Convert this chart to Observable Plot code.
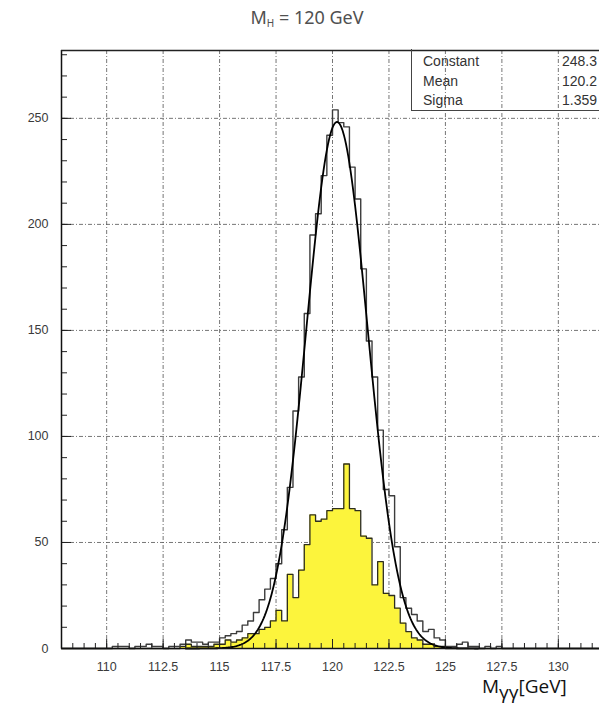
<!DOCTYPE html>
<html>
<head>
<meta charset="utf-8">
<script src="https://cdn.jsdelivr.net/npm/d3@7"></script>
<script src="https://cdn.jsdelivr.net/npm/@observablehq/plot@0.6"></script>
<style>
  html, body { margin: 0; padding: 0; background: #fff; overflow: hidden; }
  #wrap { position: relative; width: 599px; height: 708px; overflow: hidden; }
  #chart { position: absolute; left: 0; top: 0; }
  #title {
    position: absolute; left: 0; top: 5px; width: 614px; text-align: center;
    font-family: "Noto Sans", "Liberation Sans", sans-serif; font-size: 18px; color: #505050;
  }
  #title sub { font-size: 10px; vertical-align: -3px; }
  #stats {
    position: absolute; left: 411px; top: 49px; width: 192px; height: 61px;
    border-left: 1px solid #444; border-bottom: 1.5px solid #444;
    font-family: "Liberation Sans", Arial, sans-serif; font-size: 14px; color: #333;
  }
  #stats .k { position: absolute; left: 11px; }
  #stats .v { position: absolute; right: 7px; text-align: right; }
  #xlabel {
    position: absolute; left: 482px; top: 676px; line-height: 20px;
    font-family: "Open Sans", "Noto Sans", sans-serif; font-size: 19px; color: #111; white-space: nowrap;
  }
  #xlabel sub { font-size: 19px; vertical-align: -6px; line-height: 0; }
</style>
</head>
<body>
<div id="wrap">
  <div id="chart"></div>
  <div id="title">M<sub>H</sub> = 120 GeV</div>
  <div id="stats"></div>
  <div id="xlabel">M<sub>γγ</sub>[GeV]</div>
</div>
<script>
// Diphoton invariant mass, 0.25 GeV bins starting at 108 GeV
const binStart = 108;
const binWidth = 0.25;

// all events (open histogram)
const allEvents = [
  0, 0, 0, 0, 0, 0, 0, 0,          // 108.00 - 109.75
  0, 1, 1, 1, 0, 1, 1, 2,          // 110.00 - 111.75
  1, 1, 0, 1, 1, 2, 4, 3,          // 112.00 - 113.75
  3, 2, 3, 3, 5, 6, 7, 8,          // 114.00 - 115.75
  11, 13, 17, 23, 28, 33, 40, 56,  // 116.00 - 117.75
  76, 112, 128, 158, 195, 205, 223, 242, // 118.00 - 119.75
  254, 248, 246, 227, 212, 179, 145, 128, // 120.00 - 121.75
  103, 75, 72, 48, 24, 19, 16, 13, // 122.00 - 123.75
  8, 9, 5, 4, 1, 1, 2, 3,          // 124.00 - 125.75
  1, 1, 0, 1, 0, 1, 0, 0,          // 126.00 - 127.75
  0, 0, 0, 0, 0, 0, 0, 0,          // 128.00 - 129.75
  0, 0, 0, 0, 0, 0, 0, 0           // 130.00 - 131.75
];

// selected subset (filled histogram)
const selectedEvents = [
  0, 0, 0, 0, 0, 0, 0, 0,
  0, 0, 0, 0, 0, 0, 0, 0,
  0, 0, 0, 0, 0, 1, 2, 1,
  1, 1, 1, 2, 2, 4, 3, 4,
  5, 7, 7, 9, 10, 13, 18, 13,
  35, 24, 37, 49, 63, 60, 61, 65,
  66, 66, 87, 66, 65, 53, 52, 30,
  41, 26, 25, 19, 12, 8, 5, 4,
  2, 2, 1, 1, 0, 0, 0, 0,
  0, 0, 0, 0, 0, 0, 0, 0,
  0, 0, 0, 0, 0, 0, 0, 0,
  0, 0, 0, 0, 0, 0, 0, 0
];

// Gaussian fit results
const fitNames = ["Constant", "Mean", "Sigma"];
const fitValues = [248.3, 120.2, 1.359];
const fitLabels = ["248.3", "120.2", "1.359"];
const [fitConstant, fitMean, fitSigma] = fitValues;

// axis ticks
const xMajorTicks = [110, 112.5, 115, 117.5, 120, 122.5, 125, 127.5, 130];
const yMajorTicks = [0, 50, 100, 150, 200, 250];
const xMinorTicks = d3.range(108.5, 132, 0.5);
const yMinorTicks = d3.range(10, 282, 10);

const xDomain = [108, 132];
const yDomain = [0, 282];

// histogram outline points (step-after, closing at the last bin edge)
function steps(counts) {
  const pts = counts.map((n, i) => ({m: binStart + i * binWidth, n}));
  pts.push({m: binStart + counts.length * binWidth, n: counts[counts.length - 1]});
  return pts;
}

// fitted Gaussian drawn from the fit parameters
const fitCurve = d3.range(113.5, 126.5, 0.05).map(m => ({
  m, n: fitConstant * Math.exp(-0.5 * ((m - fitMean) / fitSigma) ** 2)
}));

const W = 599, H = 708, mL = 61, mT = 50, mB = 60;
const plotH = H - mT - mB;
const plotW = W - mL;
const grid = {stroke: "#555", strokeDasharray: "4,2,1,2", strokeWidth: 0.9, strokeOpacity: 0.9};

const chart = Plot.plot({
  width: W,
  height: H,
  marginLeft: mL,
  marginRight: 0,
  marginTop: mT,
  marginBottom: mB,
  style: {fontFamily: "Liberation Sans, Arial, sans-serif", fontSize: "12.5px", color: "#3a3a3a", background: "white", overflow: "visible"},
  x: {domain: xDomain, range: [mL, 603], ticks: xMajorTicks, tickSize: 0, tickPadding: 14, tickFormat: d => String(d), label: null},
  y: {domain: yDomain, ticks: yMajorTicks, tickSize: 0, tickPadding: 13, label: null},
  marks: [
    Plot.ruleX(xMajorTicks, {x: d => d, ...grid}),
    Plot.ruleY(yMajorTicks.filter(v => v > 0), {y: d => d, ...grid}),
    Plot.areaY(steps(selectedEvents), {x: "m", y: "n", curve: "step-after", fill: "#fcf43c"}),
    Plot.line(steps(selectedEvents), {x: "m", y: "n", curve: "step-after", stroke: "#2e2e1e", strokeWidth: 1.3}),
    Plot.line(steps(allEvents), {x: "m", y: "n", curve: "step-after", stroke: "#3c3c3c", strokeWidth: 1.4}),
    Plot.line(fitCurve, {x: "m", y: "n", stroke: "#000", strokeWidth: 1.8}),
    Plot.tickX(xMinorTicks, {x: d => d, insetTop: plotH - 5, stroke: "#222"}),
    Plot.tickX(xMajorTicks, {x: d => d, insetTop: plotH - 9, stroke: "#222"}),
    Plot.tickY(yMinorTicks, {y: d => d, insetRight: plotW - 6, stroke: "#222"}),
    Plot.tickY(yMajorTicks, {y: d => d, insetRight: plotW - 10, stroke: "#222"}),
    Plot.ruleX([xDomain[0]], {stroke: "#111", strokeWidth: 1.5}),
    Plot.ruleY([yDomain[0]], {stroke: "#111", strokeWidth: 1.5}),
    Plot.ruleY([yDomain[1]], {stroke: "#222", strokeWidth: 1.5})
  ]
});
document.getElementById("chart").append(chart);

// fit statistics box
const stats = document.getElementById("stats");
fitNames.forEach((name, i) => {
  const top = 4 + i * 19.5;
  const k = document.createElement("span");
  k.className = "k"; k.style.top = top + "px"; k.textContent = name;
  const v = document.createElement("span");
  v.className = "v"; v.style.top = top + "px"; v.textContent = fitLabels[i];
  stats.append(k, v);
});
</script>
</body>
</html>
